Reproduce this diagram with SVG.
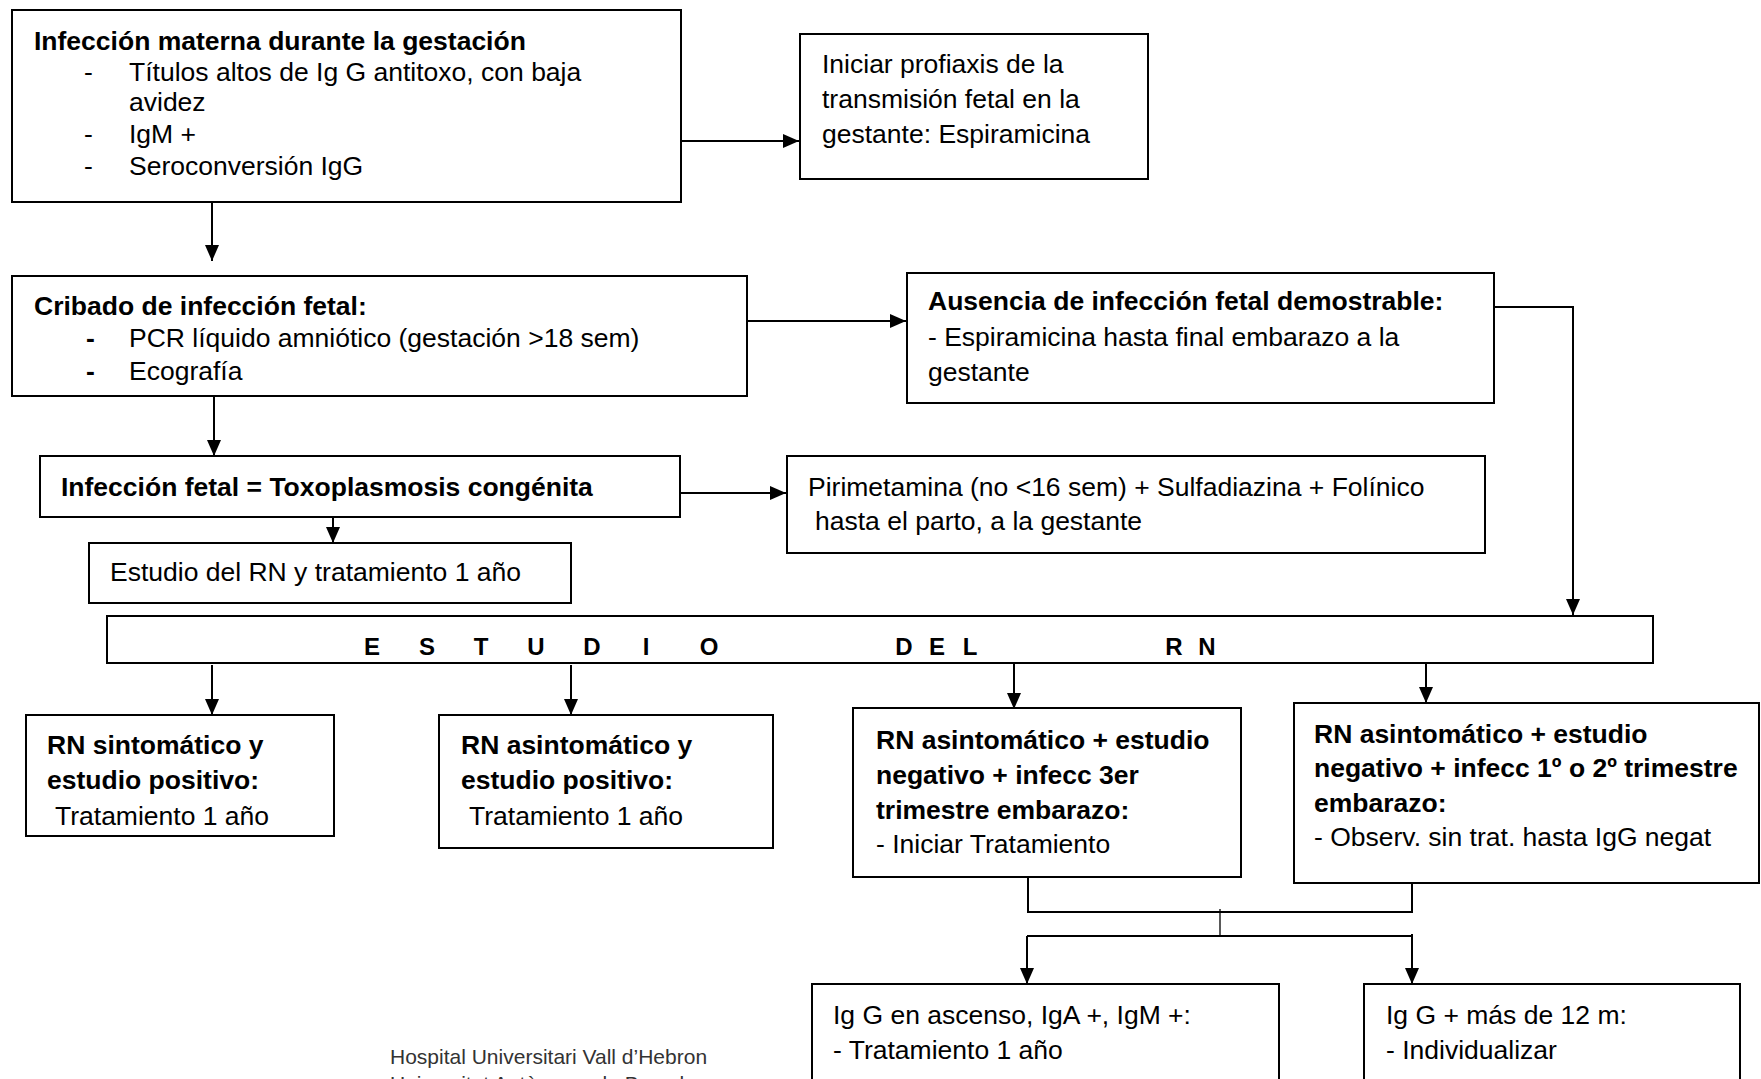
<svg xmlns="http://www.w3.org/2000/svg" width="1761" height="1079" viewBox="0 0 1761 1079">
<style>
text{font-family:"Liberation Sans",Arial,sans-serif;font-size:26.5px;fill:#000}
.b{font-weight:bold}
.box{fill:#fff;stroke:#000;stroke-width:2}
.c{fill:none;stroke:#000;stroke-width:2}
.t{fill:none;stroke:#000;stroke-width:1.3}
.sp{font-weight:bold;font-size:24px;text-anchor:middle}
.ft{font-size:21px;fill:#333}
</style>
<defs>
<marker id="ah" markerUnits="userSpaceOnUse" markerWidth="16" markerHeight="14" refX="16" refY="7" orient="auto">
<path d="M0,0 L16,7 L0,14 z" fill="#000"/>
</marker>
</defs>
<rect width="1761" height="1079" fill="#fff"/>

<g id="connectors">
<path class="c" d="M681,141 H799" marker-end="url(#ah)"/>
<path class="c" d="M212,202 V261" marker-end="url(#ah)"/>
<path class="c" d="M747,321 H906" marker-end="url(#ah)"/>
<path class="c" d="M1494,307 H1573 V615" marker-end="url(#ah)"/>
<path class="c" d="M214,396 V456" marker-end="url(#ah)"/>
<path class="c" d="M681,493 H786" marker-end="url(#ah)"/>
<path class="c" d="M333,517 V543" marker-end="url(#ah)"/>
<path class="c" d="M212,665 V715" marker-end="url(#ah)"/>
<path class="c" d="M571,665 V715" marker-end="url(#ah)"/>
<path class="c" d="M1014,663 V709" marker-end="url(#ah)"/>
<path class="c" d="M1426,663 V703" marker-end="url(#ah)"/>
<path class="c" d="M1028,877 V912 H1412 V883"/>
<path class="t" d="M1220,909 V936"/>
<path class="c" d="M1027,936 H1412"/>
<path class="c" d="M1027,936 V984" marker-end="url(#ah)"/>
<path class="c" d="M1412,934 V984" marker-end="url(#ah)"/>
</g>

<g id="n-infeccion-materna">
<rect class="box" x="12" y="10" width="669" height="192"/>
<text class="b" x="34" y="50">Infección materna durante la gestación</text>
<text x="84" y="81">-</text><text x="129" y="81">Títulos altos de Ig G antitoxo, con baja</text>
<text x="129" y="111">avidez</text>
<text x="84" y="143">-</text><text x="129" y="143">IgM +</text>
<text x="84" y="175">-</text><text x="129" y="175">Seroconversión IgG</text>
</g>

<g id="n-profilaxis">
<rect class="box" x="800" y="34" width="348" height="145"/>
<text x="822" y="73">Iniciar profiaxis de la</text>
<text x="822" y="108">transmisión fetal en la</text>
<text x="822" y="143">gestante: Espiramicina</text>
</g>

<g id="n-cribado">
<rect class="box" x="12" y="276" width="735" height="120"/>
<text class="b" x="34" y="315">Cribado de infección fetal:</text>
<text class="b" x="86" y="347">-</text><text x="129" y="347">PCR líquido amniótico (gestación &gt;18 sem)</text>
<text class="b" x="86" y="380">-</text><text x="129" y="380">Ecografía</text>
</g>

<g id="n-ausencia">
<rect class="box" x="907" y="273" width="587" height="130"/>
<text class="b" x="928" y="310">Ausencia de infección fetal demostrable:</text>
<text x="928" y="346">- Espiramicina hasta final embarazo a la</text>
<text x="928" y="381">gestante</text>
</g>

<g id="n-infeccion-fetal">
<rect class="box" x="40" y="456" width="640" height="61"/>
<text class="b" x="61" y="496">Infección fetal = Toxoplasmosis congénita</text>
</g>

<g id="n-pirimetamina">
<rect class="box" x="787" y="456" width="698" height="97"/>
<text x="808" y="496">Pirimetamina (no &lt;16 sem) + Sulfadiazina + Folínico</text>
<text x="815" y="530">hasta el parto, a la gestante</text>
</g>

<g id="n-estudio-rn-trat">
<rect class="box" x="89" y="543" width="482" height="60"/>
<text x="110" y="581">Estudio del RN y tratamiento 1 año</text>
</g>

<g id="n-estudio-del-rn">
<rect class="box" x="107" y="616" width="1546" height="47"/>
<text class="sp" x="372" y="655">E</text>
<text class="sp" x="427" y="655">S</text>
<text class="sp" x="481" y="655">T</text>
<text class="sp" x="536" y="655">U</text>
<text class="sp" x="592" y="655">D</text>
<text class="sp" x="646" y="655">I</text>
<text class="sp" x="709" y="655">O</text>
<text class="sp" x="904" y="655">D</text>
<text class="sp" x="937" y="655">E</text>
<text class="sp" x="970" y="655">L</text>
<text class="sp" x="1174" y="655">R</text>
<text class="sp" x="1207" y="655">N</text>
</g>

<g id="n-sintomatico">
<rect class="box" x="26" y="715" width="308" height="121"/>
<text class="b" x="47" y="754">RN sintomático y</text>
<text class="b" x="47" y="789">estudio positivo:</text>
<text x="55" y="825">Tratamiento 1 año</text>
</g>

<g id="n-asintomatico-pos">
<rect class="box" x="439" y="715" width="334" height="133"/>
<text class="b" x="461" y="754">RN asintomático y</text>
<text class="b" x="461" y="789">estudio positivo:</text>
<text x="469" y="825">Tratamiento 1 año</text>
</g>

<g id="n-asintomatico-3er">
<rect class="box" x="853" y="708" width="388" height="169"/>
<text class="b" x="876" y="749">RN asintomático + estudio</text>
<text class="b" x="876" y="784">negativo + infecc 3er</text>
<text class="b" x="876" y="819">trimestre embarazo:</text>
<text x="876" y="853">- Iniciar Tratamiento</text>
</g>

<g id="n-asintomatico-1-2">
<rect class="box" x="1294" y="703" width="465" height="180"/>
<text class="b" x="1314" y="743">RN asintomático + estudio</text>
<text class="b" x="1314" y="777">negativo + infecc 1º o 2º trimestre</text>
<text class="b" x="1314" y="812">embarazo:</text>
<text x="1314" y="846">- Observ. sin trat. hasta IgG negat</text>
</g>

<g id="n-igg-ascenso">
<rect class="box" x="812" y="984" width="467" height="110"/>
<text x="833" y="1024">Ig G en ascenso, IgA +, IgM +:</text>
<text x="833" y="1059">- Tratamiento 1 año</text>
</g>

<g id="n-igg-12m">
<rect class="box" x="1364" y="984" width="376" height="110"/>
<text x="1386" y="1024">Ig G + más de 12 m:</text>
<text x="1386" y="1059">- Individualizar</text>
</g>

<g id="footer">
<text class="ft" x="390" y="1064">Hospital Universitari Vall d’Hebron</text>
<text class="ft" x="390" y="1091">Universitat Autònoma de Barcelona</text>
</g>
</svg>
